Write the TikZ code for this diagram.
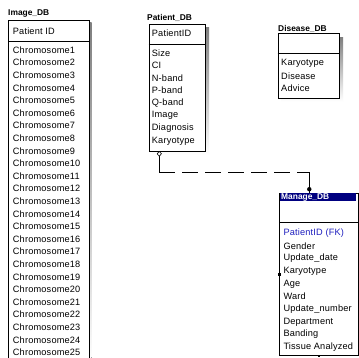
\documentclass[tikz,border=0pt]{standalone}
\usepackage{fontspec}
\setmainfont{Liberation Sans}
\newfontfamily\entfont[LetterSpace=2]{Liberation Sans}
\usetikzlibrary{shapes.geometric}
\definecolor{navy}{RGB}{0,0,128}
\definecolor{fkblue}{RGB}{30,30,190}
\definecolor{shade}{RGB}{150,150,150}
\begin{document}
\begin{tikzpicture}[x=1pt,y=-1pt,
  tbl/.style={draw=black, line width=0.9pt, fill=white, anchor=north west, inner sep=0pt},
  sep/.style={line width=0.9pt},
  ttl/.style={anchor=west, inner sep=0pt, font=\fontsize{8.4}{9}\selectfont\bfseries},
  ent/.style={anchor=west, inner sep=0pt, font=\entfont\fontsize{9.2}{10}\selectfont},
  handle/.style={fill=black, draw=none, inner sep=0pt, minimum size=2.6pt},
  conn/.style={line width=0.8pt},
  dashconn/.style={line width=0.8pt, dash pattern=on 16pt off 7pt}]
\useasboundingbox (0,0) rectangle (359,358);
\fill[white] (0,0) rectangle (359,358);

% ---------- Image_DB ----------
\node[ttl] (imgt) at (8,14) {Image\_DB};
\fill[shade] (11,23) rectangle (91.5,365);
\node[tbl, minimum width=81pt, minimum height=345pt] (img) at (8,20) {};
\draw[sep] ([yshift=-21pt]img.north west) -- ([yshift=-21pt]img.north east);
\node[ent] (imgpid) at (12.7,31) {Patient ID};
\foreach \i in {1,...,25}
  \node[ent] (imgc\i) at (12.7,{50+(\i-1)*12.6}) {Chromosome\i};

% ---------- Patient_DB ----------
\node[ttl] (patt) at (147,18) {Patient\_DB};
\fill[shade] (152.7,28) rectangle (209,155);
\node[tbl, minimum width=56.3pt, minimum height=127pt] (pat) at (148.7,24) {};
\draw[sep] ([yshift=-20pt]pat.north west) -- ([yshift=-20pt]pat.north east);
\node[ent] (patpid) at (151.7,33.5) {PatientID};
\foreach \t [count=\i from 0] in {Size,CI,N-band,P-band,Q-band,Image,Diagnosis,Karyotype}
  \node[ent] (patr\i) at (151.7,{53+\i*12.55}) {\t};

% ---------- Disease_DB ----------
\node[ttl] (dist) at (278,28.5) {Disease\_DB};
\fill[shade] (281.7,37.3) rectangle (343,101.7);
\node[tbl, minimum width=61.3pt, minimum height=64.4pt] (dis) at (277.7,33.3) {};
\draw[sep] ([yshift=-20pt]dis.north west) -- ([yshift=-20pt]dis.north east);
\foreach \t [count=\i from 0] in {Karyotype,Disease,Advice}
  \node[ent] (disr\i) at (281,{63.3+\i*12.7}) {\t};

% ---------- Manage_DB ----------
\node[tbl, minimum width=78.7pt, minimum height=162.3pt] (man) at (279.3,192.7) {};
\fill[navy] (279.8,193.1) rectangle (356,201.2);
\node[ttl, text=white] (mant) at (281,197.2) {Manage\_DB};
\draw[sep] ([yshift=-30pt]man.north west) -- ([yshift=-30pt]man.north east);
\node[ent, text=fkblue] (manr0) at (283.3,233.3) {PatientID (FK)};
\foreach \t [count=\i from 1] in {Gender,Update\_date,Karyotype,Age,Ward,Update\_number,Department,Banding,Tissue Analyzed}
  \node[ent] (manr\i) at (283.3,{233.3+\i*12.65}) {\t};
\node[handle] (hw) at (man.west) {};
\node[handle] (he) at (man.east) {};
\node[handle] (hs) at (man.south) {};

% ---------- connector ----------
\coordinate (bendL) at (159.3,172.3);
\coordinate (bendR) at (309.3,172.3);
\draw[conn] ([xshift=10.6pt]pat.south west) -- (bendL);
\draw[dashconn] (bendL) -- (bendR);
\draw[conn] (bendR) -- (bendR |- man.north);
\node[diamond, draw=black, fill=white, line width=0.6pt, inner sep=0pt, minimum width=4.5pt, minimum height=5pt] (dia) at (159.3,153.8) {};
\fill (309.3,189.2) circle (2.2);
\end{tikzpicture}
\end{document}
